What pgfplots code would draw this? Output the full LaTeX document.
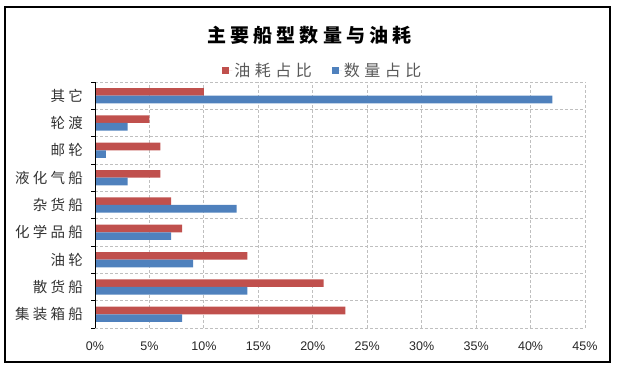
\documentclass[border=0pt]{standalone}
\usepackage{fontspec}
\setmainfont{Liberation Sans}
\newfontfamily\cjk{Noto Sans CJK SC}
\usepackage{pgfplots}
\usepackage{pgfplotstable}
\pgfplotsset{compat=1.18}
\definecolor{cred}{HTML}{C0504D}
\definecolor{cblue}{HTML}{4F81BD}
\definecolor{gridc}{HTML}{BFBFBF}
\definecolor{legtxt}{HTML}{595959}
\definecolor{lbl}{HTML}{333333}
\pgfplotstableread{
y fuel count
0 23 8
1 21 14
2 14 9
3 8 7
4 7 13
5 6 3
6 6 1
7 5 3
8 10 42
}\shipdata
\begin{document}
\begin{tikzpicture}
\useasboundingbox (0pt,0pt) rectangle (618pt,369pt);
\draw[line width=2pt] (5pt,7pt) rectangle (610pt,362pt);
\node[inner sep=0pt, font=\fontsize{19}{22}\selectfont\cjk\bfseries\addfontfeatures{LetterSpace=22}] at (309.5pt,334pt) {主要船型数量与油耗};
\begin{axis}[
  at={(95pt,41pt)}, anchor=south west,
  scale only axis, width=490pt, height=246pt,
  xbar, bar width=7.6pt,
  xmin=0, xmax=45, ymin=-0.5, ymax=8.5,
  xtick={0,5,...,45},
  xticklabel={\pgfmathprintnumber{\tick}\%},
  /pgf/number format/assume math mode=true,
  ytick={0,...,8},
  yticklabels={集装箱船,散货船,油轮,化学品船,杂货船,液化气船,邮轮,轮渡,其它},
  minor ytick={-0.5,0.5,...,8.5},
  xmajorgrids, yminorgrids,
  major grid style={gridc, line width=0.8pt, dash pattern=on 3pt off 2pt},
  minor grid style={gridc, line width=0.8pt, dash pattern=on 3pt off 2pt},
  major tick length=0pt, minor tick length=3.5pt, tick align=outside,
  ytick pos=left, xtick pos=bottom,
  minor tick style={black, line width=0.8pt},
  axis line style={draw=none},
  xticklabel style={anchor=center, yshift=-18.5pt, font=\fontsize{12.5}{14}\selectfont, text=black!85},
  yticklabel style={anchor=east, inner sep=0pt, xshift=-12pt, font=\fontsize{14.5}{16}\selectfont\cjk\addfontfeatures{LetterSpace=22}, text=lbl},
  legend columns=2,
  legend cell align=left,
  legend style={draw=none, fill=none, at={(0.465,1.045)}, anchor=center,
    font=\fontsize{16}{18}\selectfont\cjk\addfontfeatures{LetterSpace=28}, text=legtxt},
  legend image code/.code={\fill[#1] (0pt,-3.5pt) rectangle (7pt,3.5pt); \path (0pt,0pt) -- (10pt,0pt);},
]
\addplot[fill=cred, draw=none, bar shift=3.8pt] table[x=fuel, y=y] {\shipdata};
\addplot[fill=cblue, draw=none, bar shift=-3.8pt] table[x=count, y=y] {\shipdata};
\legend{油耗占比\rule{18pt}{0pt},数量占比}
\draw[black, line width=0.8pt] (rel axis cs:0,0) -- (rel axis cs:0,1);
\end{axis}
\end{tikzpicture}
\end{document}
